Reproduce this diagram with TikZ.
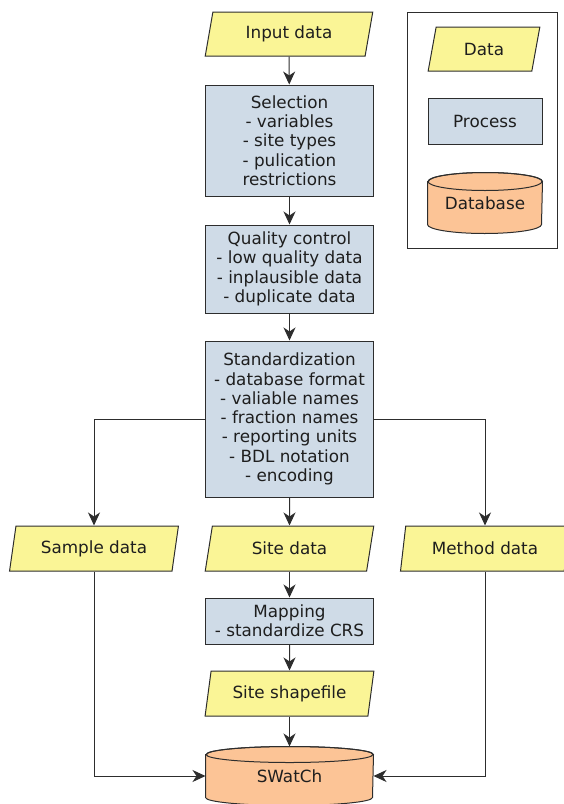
\documentclass[tikz,border=0pt]{standalone}
\usepackage{fontspec}
\setmainfont{DejaVu Sans}
\usetikzlibrary{shapes.geometric,arrows.meta,backgrounds}
\definecolor{datafill}{RGB}{250,245,150}
\definecolor{procfill}{RGB}{207,219,231}
\definecolor{dbfill}{RGB}{252,196,150}
\definecolor{edge}{RGB}{45,45,45}
\definecolor{txt}{RGB}{30,30,30}
\tikzset{
  base/.style={draw=edge, line width=1pt, inner sep=0pt, align=center, text=txt,
    font=\fontsize{16.8}{19.3}\selectfont},
  datanode/.style={base, fill=datafill, trapezium, trapezium left angle=75,
    trapezium right angle=105, trapezium stretches=true,
    minimum width=169pt, minimum height=45pt},
  procnode/.style={base, fill=procfill, rectangle, minimum width=168pt},
  dbnode/.style={base, draw=none, rectangle, minimum width=167pt, minimum height=58pt},
  arr/.style={draw=edge, line width=1pt, -{Stealth[length=13pt,width=12pt,inset=4pt]}},
  dbshape/.style={draw=edge, line width=1pt, fill=dbfill},
}
\newcommand{\cylinderbg}[3]{%
  \begin{scope}[on background layer]
    \draw[dbshape] ([yshift=-#3]#1.north west) -- ([yshift=#3]#1.south west)
      arc[start angle=180, end angle=360, x radius=#2, y radius=#3]
      -- ([yshift=-#3]#1.north east)
      arc[start angle=0, end angle=180, x radius=#2, y radius=#3] -- cycle;
    \draw[draw=edge, line width=1pt] ([yshift=-#3]#1.north) ellipse[x radius=#2, y radius=#3];
  \end{scope}}
\begin{document}
\begin{tikzpicture}[x=1pt,y=1pt]
\useasboundingbox (0,0) rectangle (563,-804);

% legend
\node[draw=edge, line width=1pt, minimum width=150pt, minimum height=236pt, inner sep=0pt] (legend) at (482,-130) {};
\node[datanode, minimum width=112pt, minimum height=44pt] (ldata) at (484,-49) {Data};
\node[procnode, minimum width=114pt, minimum height=46pt] (lproc) at (485,-121) {Process};
\node[dbnode, minimum width=114pt, minimum height=60pt] (ldb) at (485,-203) {Database};
\cylinderbg{ldb}{57pt}{9pt}

% main flow
\node[datanode, minimum height=44pt] (input) at (289,-34) {Input data};
\node[procnode, minimum height=111pt] (sel) at (289.5,-140.5) {Selection\\- variables\\- site types\\- pulication\\restrictions};
\node[procnode, minimum height=88pt] (qc) at (289.5,-269) {Quality control\\- low quality data\\- inplausible data\\- duplicate data};
\node[procnode, minimum height=156pt] (std) at (289.5,-419) {Standardization\\- database format\\- valiable names\\- fraction names\\- reporting units\\- BDL notation\\- encoding};
\node[datanode] (sample) at (94,-548.5) {Sample data};
\node[datanode] (site) at (289.5,-548.5) {Site data};
\node[datanode] (method) at (485,-548.5) {Method data};
\node[procnode, minimum height=46pt] (map) at (289.5,-621) {Mapping\\- standardize CRS};
\node[datanode] (shp) at (289.5,-693.5) {Site shapefile};
\node[dbnode] (db) at (289.5,-776) {SWatCh};
\cylinderbg{db}{83.5pt}{8pt}

% connectors
\draw[arr] (input) -- (sel);
\draw[arr] (sel) -- (qc);
\draw[arr] (qc) -- (std);
\draw[arr] (std) -- (site);
\draw[arr] (std.west) -| (sample.north);
\draw[arr] (std.east) -| (method.north);
\draw[arr] (site) -- (map);
\draw[arr] (map) -- (shp);
\draw[arr] (shp) -- (db.north);
\draw[arr] (sample.south) |- (db.west);
\draw[arr] (method.south) |- (db.east);
\end{tikzpicture}
\end{document}
